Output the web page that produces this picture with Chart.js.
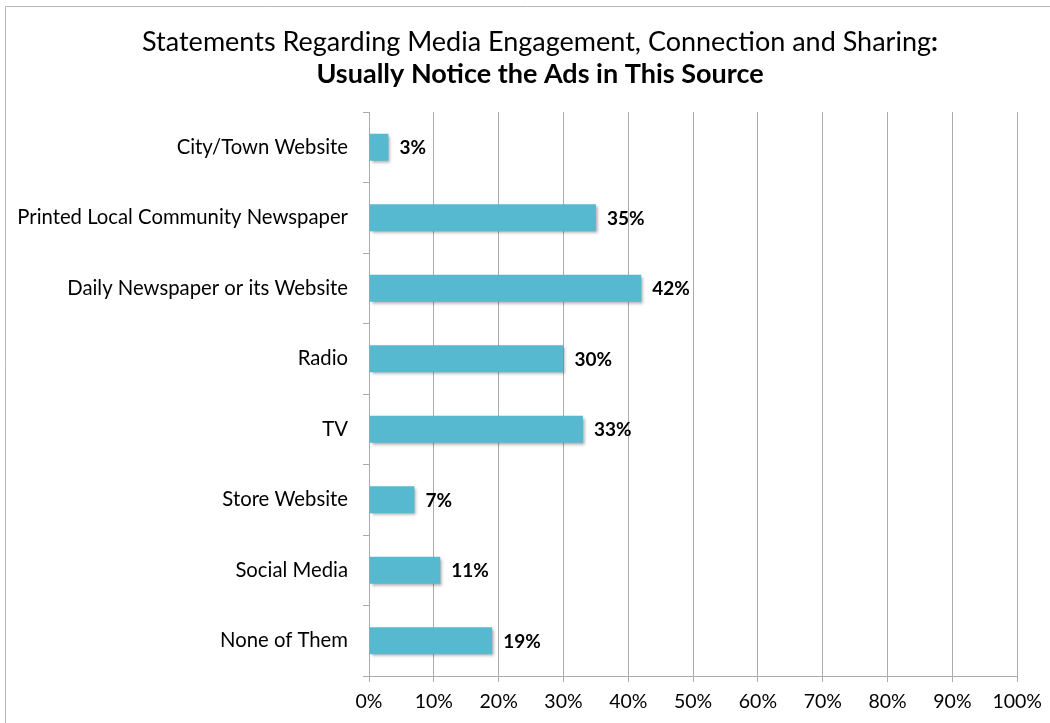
<!DOCTYPE html>
<html>
<head>
<meta charset="utf-8">
<script src="https://cdn.jsdelivr.net/npm/chart.js@4"></script>
<style>
  html, body { margin: 0; padding: 0; background: #fff; }
  #wrap { width: 1050px; height: 723px; position: relative; }
</style>
</head>
<body>
<div id="wrap"><canvas id="myChart" width="1050" height="723"></canvas></div>
<script>
const sources = [
  "City/Town Website",
  "Printed Local Community Newspaper",
  "Daily Newspaper or its Website",
  "Radio",
  "TV",
  "Store Website",
  "Social Media",
  "None of Them"
];
const noticeAds = [3, 35, 42, 30, 33, 7, 11, 19];
const titleLine = "Statements Regarding Media Engagement, Connection and Sharing";
const subtitleLine = "Usually Notice the Ads in This Source";

const fontFamily = "Lato, 'Open Sans', sans-serif";
const gridColor = "#ababab";
const ctx = document.getElementById("myChart");

// outer frame (top and left edges only are visible)
const framePlugin = {
  id: "frame",
  beforeDraw(chart) {
    const c = chart.ctx;
    c.save();
    c.fillStyle = "#fff";
    c.fillRect(0, 0, chart.width, chart.height);
    c.strokeStyle = "#b5b5b5";
    c.lineWidth = 1;
    c.beginPath();
    c.moveTo(5.5, chart.height);
    c.lineTo(5.5, 6.5);
    c.lineTo(chart.width, 6.5);
    c.stroke();
    c.restore();
  }
};

// two-line heading; the colon on the first line is bold
const headingPlugin = {
  id: "heading",
  afterDraw(chart) {
    const c = chart.ctx;
    const cx = 540;
    c.save();
    c.fillStyle = "#000";
    c.textBaseline = "middle";
    c.textAlign = "left";
    c.font = "normal 27px " + fontFamily;
    const w1 = c.measureText(titleLine).width;
    c.font = "bold 27px " + fontFamily;
    const wColon = c.measureText(":").width;
    let x = cx - (w1 + wColon) / 2;
    c.font = "normal 27px " + fontFamily;
    c.fillText(titleLine, x, 42);
    c.font = "bold 27px " + fontFamily;
    c.fillText(":", x + w1, 42);
    c.textAlign = "center";
    c.fillText(subtitleLine, cx, 74);
    c.restore();
  }
};

// soft drop shadow under the bars
const shadowPlugin = {
  id: "barShadow",
  beforeDatasetDraw(chart) {
    const c = chart.ctx;
    c.save();
    c.shadowColor = "rgba(0,0,0,0.35)";
    c.shadowBlur = 3;
    c.shadowOffsetX = 2;
    c.shadowOffsetY = 2;
  },
  afterDatasetDraw(chart) {
    chart.ctx.restore();
  }
};

// percentage labels at the end of each bar
const valueLabels = {
  id: "valueLabels",
  afterDatasetsDraw(chart) {
    const c = chart.ctx;
    const meta = chart.getDatasetMeta(0);
    c.save();
    c.font = "bold 19px " + fontFamily;
    c.fillStyle = "#000";
    c.textAlign = "left";
    c.textBaseline = "middle";
    meta.data.forEach((bar, i) => {
      c.fillText(noticeAds[i] + "%", bar.x + 11, bar.y + 1);
    });
    c.restore();
  }
};

new Chart(ctx, {
  type: "bar",
  data: {
    labels: sources,
    datasets: [
      {
        data: noticeAds,
        backgroundColor: "#56b9d0",
        borderWidth: 0,
        categoryPercentage: 1,
        barPercentage: 0.385
      }
    ]
  },
  options: {
    indexAxis: "y",
    responsive: false,
    animation: false,
    layout: { padding: { left: 0, right: 31, top: 112, bottom: 0 } },
    plugins: {
      legend: { display: false },
      tooltip: { enabled: false },
      title: { display: false }
    },
    scales: {
      x: {
        min: 0,
        max: 100,
        ticks: {
          stepSize: 10,
          color: "#000",
          font: { family: fontFamily, size: 19.5 },
          padding: 8,
          callback: (v) => v + "%"
        },
        grid: { color: gridColor, tickLength: 6, lineWidth: 1 },
        border: { color: gridColor },
        afterFit(scale) { scale.height = 47; }
      },
      y: {
        ticks: {
          color: "#000",
          font: { family: fontFamily, size: 20.3 },
          padding: 15
        },
        grid: {
          color: gridColor,
          drawOnChartArea: false,
          tickLength: 6,
          offset: true
        },
        border: { color: gridColor },
        afterFit(scale) { scale.width = 369; }
      }
    }
  },
  plugins: [framePlugin, headingPlugin, shadowPlugin, valueLabels]
});
</script>
</body>
</html>
